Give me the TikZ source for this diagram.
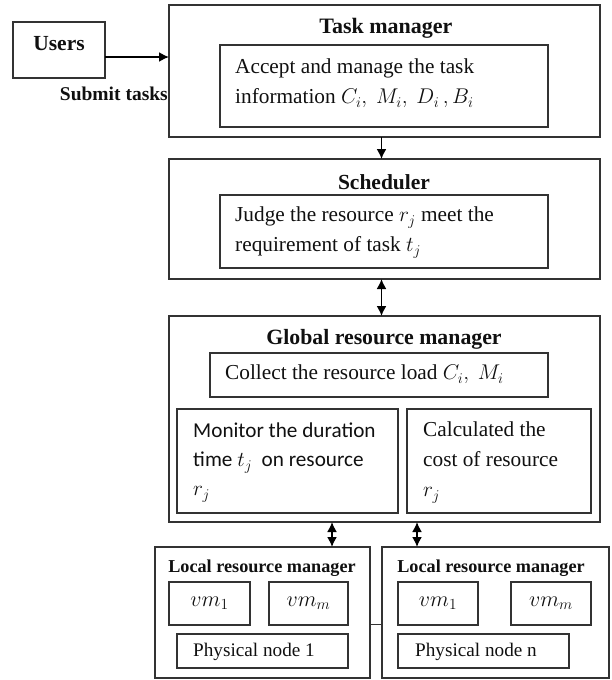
\RequirePackage{fix-cm}
\documentclass[tikz,border=0pt]{standalone}
\usepackage{fontspec}
\setmainfont{Liberation Serif}
\newfontfamily\calfont{Carlito}
\usetikzlibrary{arrows.meta}

\definecolor{linecol}{HTML}{333333}
\definecolor{inkcol}{HTML}{101010}

\tikzset{
  box/.style={draw=linecol, line width=1.3pt, inner sep=0pt, outer sep=0pt, anchor=north west},
  ttl/.style={font=\bfseries\fontsize{21.5}{25}\selectfont, text=inkcol, inner sep=0pt},
  subttl/.style={font=\bfseries\fontsize{18.2}{21}\selectfont, text=inkcol, inner sep=0pt},
  body/.style={font=\fontsize{21.3}{30}\selectfont, text=inkcol, inner sep=0pt, align=left, anchor=north west},
  sansbody/.style={font=\calfont\fontsize{21.2}{29}\selectfont, text=inkcol, inner sep=0pt, align=left, anchor=north west},
  small/.style={font=\fontsize{19.2}{22}\selectfont, text=inkcol, inner sep=0pt},
  vmtxt/.style={font=\fontsize{22}{26}\selectfont, text=inkcol, inner sep=0pt},
  tip/.tip={Latex[length=10pt,width=10pt]},
  arr/.style={draw=black, line width=1.6pt, -tip},
  darr/.style={draw=black, line width=1.6pt, tip-tip},
  link/.style={draw=linecol, line width=1.3pt}
}

\begin{document}
\begin{tikzpicture}[x=1pt, y=-1pt]
\useasboundingbox (0,0) rectangle (612,680);

% users and task manager
\node[box, minimum width=92pt, minimum height=56pt] (users) at (13,22) {};
\node[ttl] (userstxt) at (59,44) {Users};
\node[box, minimum width=431pt, minimum height=132pt] (tm) at (169,5) {};
\node[ttl, font=\bfseries\fontsize{22}{25}\selectfont] (tmtxt) at (386,28) {Task manager};
\node[box, minimum width=328pt, minimum height=82pt] (tmin) at (220,45) {};
\node[body] (tmintxt) at (235,59) {Accept and manage the task\\information $C_i,\ M_i,\ D_i\,,B_i$};
\node[font=\bfseries\fontsize{19.5}{23}\selectfont, text=inkcol, inner sep=0pt, anchor=east] (submit) at (168,94) {Submit tasks};
\draw[arr] ([yshift=-7pt]users.east) -- ([yshift=-7pt]users.east -| tm.west);

% scheduler
\node[box, minimum width=431pt, minimum height=120pt] (sch) at (169,159) {};
\node[ttl] (schtxt) at (384,182) {Scheduler};
\node[box, minimum width=328pt, minimum height=73pt] (schin) at (220,195) {};
\node[body] (schintxt) at (235,207) {Judge the resource $r_j$ meet the\\requirement of task $t_j$};
\draw[arr] ([xshift=-3pt]tm.south) -- ([xshift=-3pt]tm.south |- sch.north);

% global resource manager
\node[box, minimum width=431pt, minimum height=206pt] (glob) at (169,316) {};
\node[ttl, font=\bfseries\fontsize{21.8}{25}\selectfont] (globtxt) at (384,339) {Global resource manager};
\node[box, minimum width=338pt, minimum height=44pt] (coll) at (210,353) {};
\node[body] (colltxt) at (225,365) {Collect the resource load $C_i,\ M_i$};
\node[box, minimum width=221pt, minimum height=104pt] (mon) at (177,409) {};
\node[sansbody] (montxt) at (193,423) {Monitor the duration\\time $t_j$\ \ on resource\\$r_j$};
\node[box, minimum width=184pt, minimum height=104pt] (calc) at (407,409) {};
\node[body] (calctxt) at (423,422) {Calculated the\\cost of resource\\$r_j$};
\draw[darr] ([xshift=-3pt]sch.south) -- ([xshift=-3pt]sch.south |- glob.north);

% local resource managers
\node[box, minimum width=215pt, minimum height=131pt] (loc1) at (155,547) {};
\node[subttl] (loc1txt) at (262,568) {Local resource manager};
\node[box, minimum width=81pt, minimum height=43pt] (vma) at (169,582) {};
\node[vmtxt] (vmatxt) at (vma.center) {$vm_1$};
\node[box, minimum width=79pt, minimum height=43pt] (vmb) at (269,582) {};
\node[vmtxt] (vmbtxt) at (vmb.center) {$vm_m$};
\node[box, minimum width=171pt, minimum height=34pt] (phy1) at (177,634) {};
\node[small] (phy1txt) at (254,652) {Physical node 1};

\node[box, minimum width=227pt, minimum height=131pt] (loc2) at (382,547) {};
\node[subttl] (loc2txt) at (491,568) {Local resource manager};
\node[box, minimum width=80pt, minimum height=43pt] (vmc) at (398,582) {};
\node[vmtxt] (vmctxt) at (vmc.center) {$vm_1$};
\node[box, minimum width=80pt, minimum height=43pt] (vmd) at (511,582) {};
\node[vmtxt] (vmdtxt) at (vmd.center) {$vm_m$};
\node[box, minimum width=171pt, minimum height=34pt] (phyn) at (398,634) {};
\node[small] (phyntxt) at (476,652) {Physical node n};

\draw[link] ([yshift=-12pt]loc1.east) -- ([yshift=-12pt]loc1.east -| loc2.west);
\draw[darr] ([xshift=-52.5pt]glob.south) -- ([xshift=-52.5pt]glob.south |- loc1.north);
\draw[darr] ([xshift=32.5pt]glob.south) -- ([xshift=32.5pt]glob.south |- loc2.north);
\end{tikzpicture}
\end{document}
